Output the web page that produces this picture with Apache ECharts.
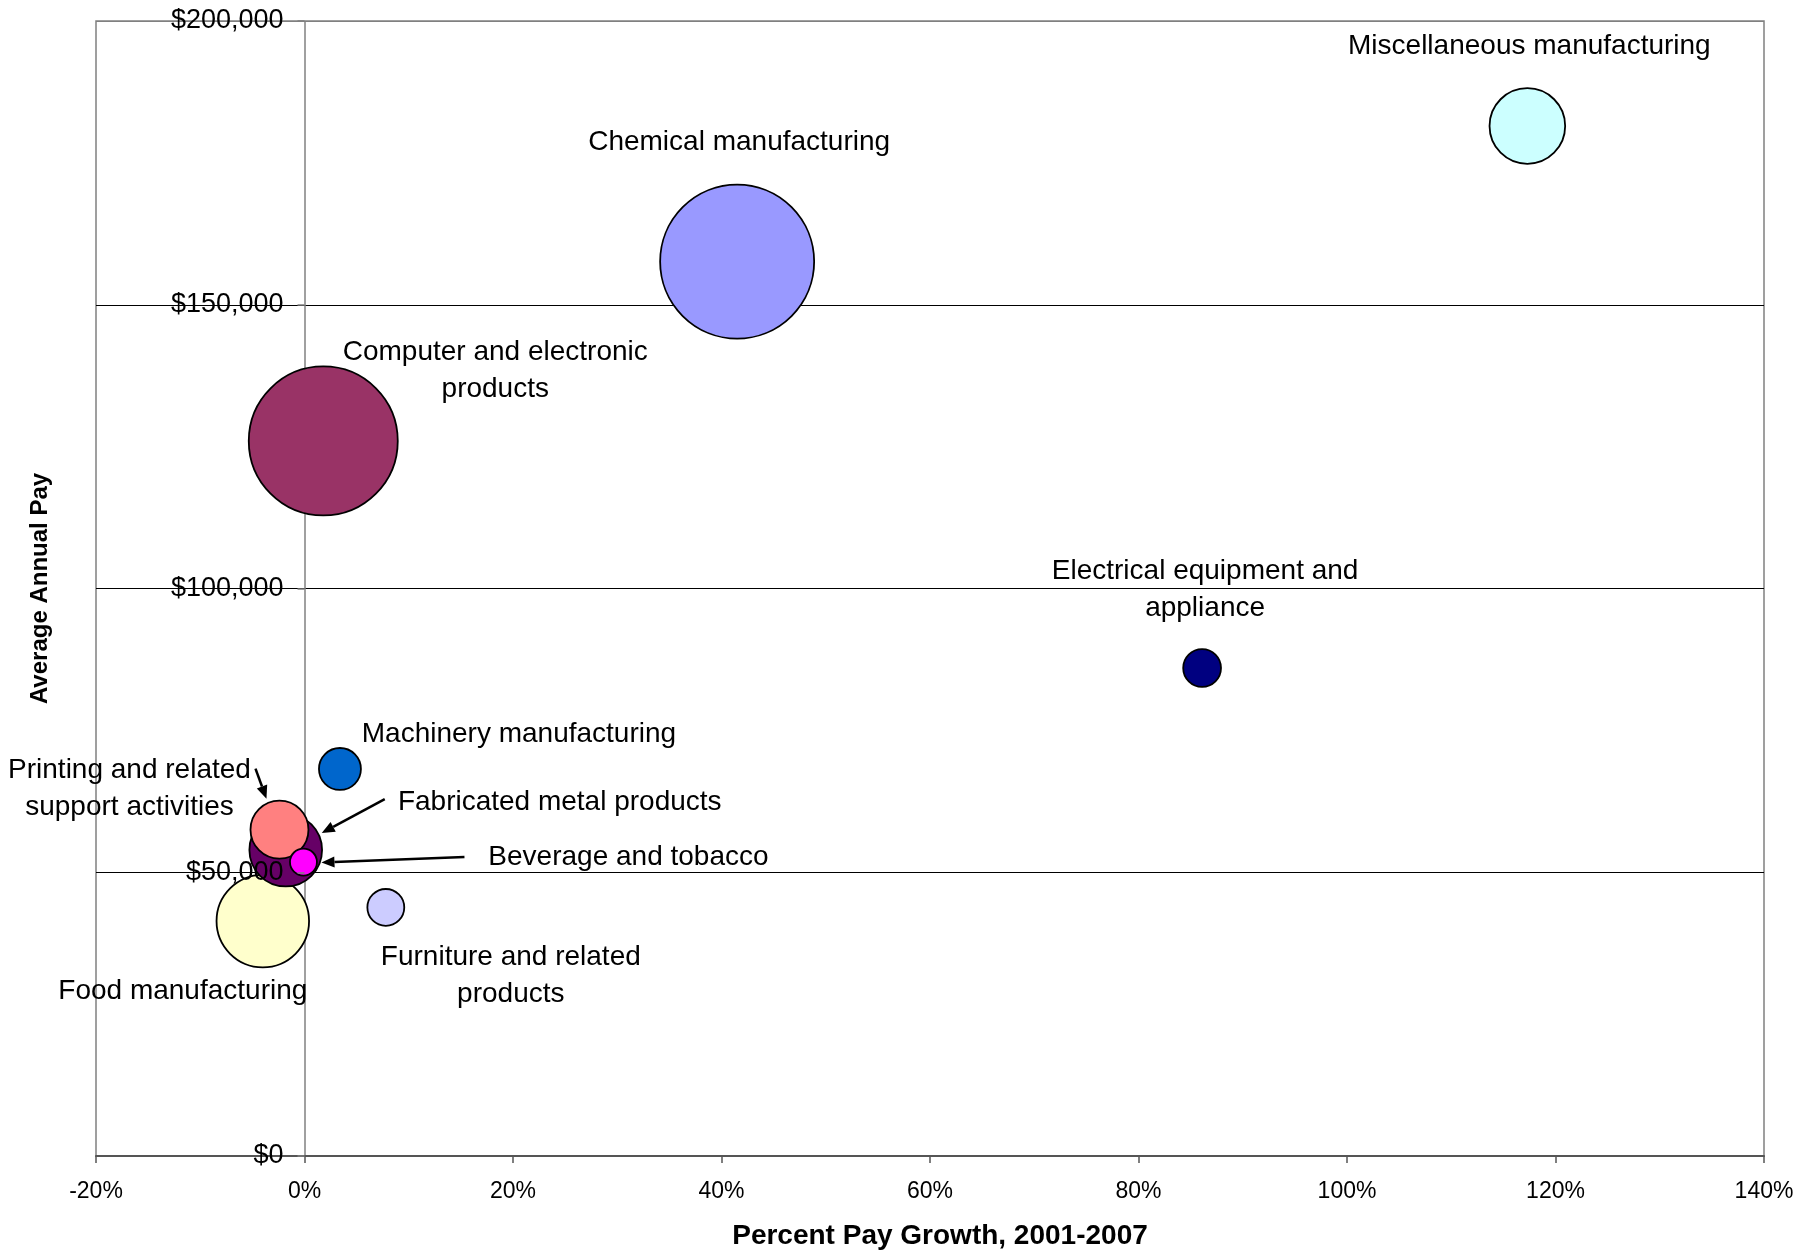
<!DOCTYPE html>
<html>
<head>
<meta charset="utf-8">
<script src="https://cdn.jsdelivr.net/npm/echarts@6/dist/echarts.min.js"></script>
<style>
html,body{margin:0;padding:0;background:#fff;}
#chart{width:1798px;height:1253px;}
</style>
</head>
<body>
<div id="chart"></div>
<script>
// ---- data ----
const industries = [
  'Food manufacturing',
  'Fabricated metal products',
  'Printing and related\nsupport activities',
  'Beverage and tobacco',
  'Machinery manufacturing',
  'Furniture and related\nproducts',
  'Computer and electronic\nproducts',
  'Chemical manufacturing',
  'Electrical equipment and\nappliance',
  'Miscellaneous manufacturing'
];
const payGrowth = [-4.0, -1.8, -2.4, -0.1, 3.4, 7.8, 1.8, 41.5, 86.1, 117.3];   // percent, 2001-2007
const avgPay = [41400, 53900, 57500, 51800, 68200, 43800, 126000, 157600, 86000, 181500];
const bubbleSize = [2140, 1320, 840, 182, 440, 340, 5550, 5930, 357, 1430];
const xRange = [-20, 140, 20];
const yRange = [0, 200000, 50000];
const xTitle = 'Percent Pay Growth, 2001-2007';
const yTitle = 'Average Annual Pay';

// ---- style ----
const FONT = "'Liberation Sans', Arial, sans-serif";
const GRID_LEFT = 96;
const colors = ['#FFFFCC','#660066','#FF8080','#FF00FF','#0066CC','#CCCCFF','#993366','#9999FF','#000080','#CCFFFF'];
const labelOffsets = [[-80,70],[274,-48],[-150,-41],[325,-5],[179,-35],[125,68],[172,-70],[2,-119],[3,-78],[2,-80]];
const arrowOffsets = {
  2: [[-24,-61],[-13,-31]],
  1: [[99,-51],[36,-17]],
  3: [[161,-5],[18,0.5]]
};
// vertical grid line only at 0% (second x tick)
const T = 'rgba(0,0,0,0)';
const xSplitColors = [T,'#808080',T,T,T,T,T,T,T];

const series = industries.map((name, i) => ({
  type: 'scatter',
  name: name,
  data: [[payGrowth[i], avgPay[i], bubbleSize[i]]],
  symbolSize: v => 2 * Math.sqrt(v[2]),
  itemStyle: { color: colors[i], borderColor: '#000', borderWidth: 1.8, opacity: 1 },
  label: {
    show: true,
    position: 'inside',
    offset: labelOffsets[i],
    formatter: name,
    color: '#000',
    fontFamily: FONT,
    fontSize: 28,
    lineHeight: 37,
    align: 'center',
    textBorderWidth: 0
  },
  emphasis: { disabled: true },
  xAxisIndex: 0,
  yAxisIndex: 1
}));

const chart = echarts.init(document.getElementById('chart'), null, { renderer: 'canvas' });

const option = {
  animation: false,
  backgroundColor: '#fff',
  grid: {
    left: GRID_LEFT, right: 34, top: 21, bottom: 97,
    containLabel: false,
    outerBoundsMode: 'none',
    show: true, borderColor: '#808080', borderWidth: 1.5, backgroundColor: 'transparent'
  },
  xAxis: {
    type: 'value',
    min: xRange[0], max: xRange[1], interval: xRange[2],
    axisLine: { show: true, onZero: false, lineStyle: { color: '#555', width: 2 } },
    axisTick: { show: true, inside: false, length: 7, lineStyle: { color: '#555', width: 1.5 } },
    axisLabel: { formatter: v => v + '%', fontSize: 23, color: '#000', fontFamily: FONT, margin: 24 },
    splitLine: { show: true, lineStyle: { color: xSplitColors, width: 1.5 } }
  },
  yAxis: [
    {
      // labels + ticks, shifted onto the 0% position, drawn above bubbles
      type: 'value',
      min: yRange[0], max: yRange[1], interval: yRange[2],
      position: 'left',
      offset: 0,
      z: 10,
      axisLine: { show: false, onZero: false },
      axisTick: { show: true, inside: false, length: 7, lineStyle: { color: '#808080', width: 1.5 } },
      axisLabel: {
        formatter: v => '$' + v.toLocaleString('en-US'),
        fontSize: 27, color: '#000', fontFamily: FONT, margin: 21
      },
      splitLine: { show: false }
    },
    {
      // horizontal gridlines behind bubbles + axis title
      type: 'value',
      min: yRange[0], max: yRange[1], interval: yRange[2],
      position: 'left',
      z: 0,
      axisLine: { show: false, onZero: false },
      axisTick: { show: false },
      axisLabel: { show: false },
      splitLine: { show: true, lineStyle: { color: ['#808080','#000','#000','#000','#808080'], width: 1.2 } },
      name: yTitle,
      nameLocation: 'middle',
      nameGap: 44,
      nameMoveOverlap: false,
      nameTextStyle: { fontSize: 24, fontWeight: 'bold', color: '#000', fontFamily: FONT }
    }
  ],
  series: series
};

chart.setOption(option);

// move the label axis onto x = 0 (position taken from the x scale)
const zeroPx = chart.convertToPixel({ xAxisIndex: 0 }, 0);
chart.setOption({ yAxis: [{ offset: -(zeroPx - GRID_LEFT) }, {}] });

// arrows pointing from labels to bubbles (positions derived from data through the chart's scales)
const graphics = [];
Object.keys(arrowOffsets).forEach(k => {
  const i = +k;
  const c = chart.convertToPixel({ xAxisIndex: 0, yAxisIndex: 1 }, [payGrowth[i], avgPay[i]]);
  const s = [c[0] + arrowOffsets[i][0][0], c[1] + arrowOffsets[i][0][1]];
  const e = [c[0] + arrowOffsets[i][1][0], c[1] + arrowOffsets[i][1][1]];
  const ang = Math.atan2(e[1] - s[1], e[0] - s[0]);
  const L = 13, W = 5.5;
  const bx = e[0] - L * Math.cos(ang), by = e[1] - L * Math.sin(ang);
  const px = -Math.sin(ang) * W, py = Math.cos(ang) * W;
  graphics.push({
    type: 'line', z: 20, silent: true,
    shape: { x1: s[0], y1: s[1], x2: bx, y2: by },
    style: { stroke: '#000', lineWidth: 2.5 }
  });
  graphics.push({
    type: 'polygon', z: 20, silent: true,
    shape: { points: [[e[0], e[1]], [bx + px, by + py], [bx - px, by - py]] },
    style: { fill: '#000' }
  });
});

// x-axis title, centred under the plot
const xMid = (chart.convertToPixel({ xAxisIndex: 0 }, xRange[0]) + chart.convertToPixel({ xAxisIndex: 0 }, xRange[1])) / 2;
const yBase = chart.convertToPixel({ yAxisIndex: 1 }, yRange[0]);
graphics.push({
  type: 'text', z: 20, silent: true,
  x: xMid + 10, y: yBase + 80,
  style: {
    text: xTitle, fill: '#000',
    font: "bold 28px 'Liberation Sans', Arial, sans-serif",
    align: 'center', verticalAlign: 'middle'
  }
});
chart.setOption({ graphic: graphics });
</script>
</body>
</html>
